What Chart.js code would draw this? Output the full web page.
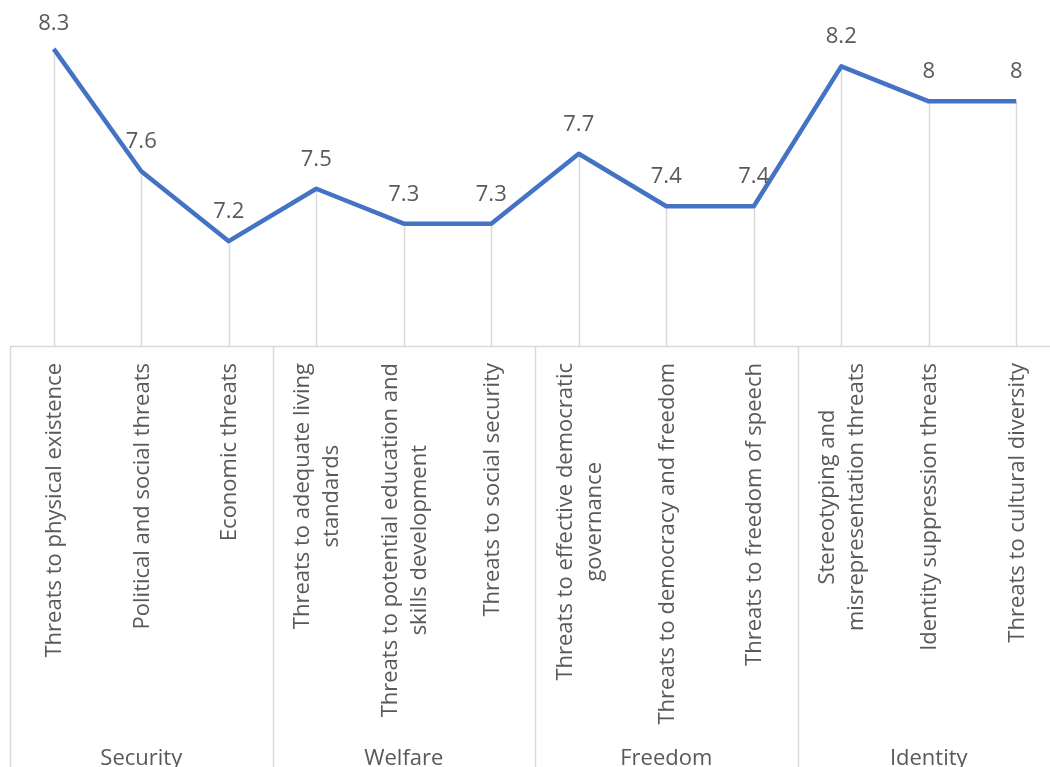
<!DOCTYPE html>
<html lang="en">

<head>
    <meta charset="UTF-8">
    <meta name="viewport" content="width=device-width, initial-scale=1.0">
    <title>Threat scores</title>
    <style>
        html, body { margin: 0; padding: 0; background: #fff; overflow: hidden; }
        #wrap { width: 1070px; height: 767px; }
    </style>
</head>

<body>
    <div id="wrap">
        <canvas id="myChart"></canvas>
    </div>
    <script src="https://cdn.jsdelivr.net/npm/chart.js"></script>
    <script>
        // categories (each entry is the list of wrapped lines)
        const categories = [
            ["Threats to physical existence"],
            ["Political and social threats"],
            ["Economic threats"],
            ["Threats to adequate living", "standards"],
            ["Threats to potential education and", "skills development"],
            ["Threats to social security"],
            ["Threats to effective democratic", "governance"],
            ["Threats to democracy and freedom"],
            ["Threats to freedom of speech"],
            ["Stereotyping and", "misrepresentation threats"],
            ["Identity suppression threats"],
            ["Threats to cultural diversity"]
        ];
        const groups = ["Security", "Welfare", "Freedom", "Identity"];
        const groupSizes = [3, 3, 3, 3];
        const scores = [8.3, 7.6, 7.2, 7.5, 7.3, 7.3, 7.7, 7.4, 7.4, 8.2, 8, 8];

        const textColor = '#595959';
        const gridColor = '#d9d9d9';
        const fontName = '"Open Sans", "Noto Sans", sans-serif';

        const ctx = document.getElementById('myChart');

        // drop lines, axis line, labels and the group level of the axis
        const axisPlugin = {
            id: 'axisPlugin',
            beforeDatasetsDraw(chart) {
                const c = chart.ctx;
                const xs = chart.scales.x;
                const ys = chart.scales.y;
                const area = chart.chartArea;
                c.save();
                c.strokeStyle = gridColor;
                c.lineWidth = 1.5;
                for (let i = 0; i < scores.length; i++) {
                    const x = Math.round(xs.getPixelForValue(i)) + 0.5;
                    c.beginPath();
                    c.moveTo(x, ys.getPixelForValue(scores[i]));
                    c.lineTo(x, area.bottom);
                    c.stroke();
                }
                c.restore();
            },
            afterDraw(chart) {
                const c = chart.ctx;
                const xs = chart.scales.x;
                const ys = chart.scales.y;
                const area = chart.chartArea;
                const h = chart.height;
                const half = (xs.getPixelForValue(1) - xs.getPixelForValue(0)) / 2;

                c.save();
                c.strokeStyle = gridColor;
                c.lineWidth = 1.5;
                c.beginPath();
                c.moveTo(area.left, area.bottom + 0.5);
                c.lineTo(area.right, area.bottom + 0.5);
                c.stroke();

                // group separators
                let start = 0;
                const bounds = [0];
                groupSizes.forEach(n => { start += n; bounds.push(start); });
                bounds.forEach(b => {
                    const x = Math.round(xs.getPixelForValue(b) - half) + 0.5;
                    c.beginPath();
                    c.moveTo(x, area.bottom);
                    c.lineTo(x, h);
                    c.stroke();
                });

                c.fillStyle = textColor;
                c.font = '22px ' + fontName;

                // data labels
                c.textAlign = 'center';
                c.textBaseline = 'alphabetic';
                for (let i = 0; i < scores.length; i++) {
                    const x = xs.getPixelForValue(i);
                    const y = Math.max(ys.getPixelForValue(scores[i]) - 23, 30);
                    c.fillText(String(scores[i]), x, y);
                }

                // category labels, rotated, ends aligned near the axis
                const lh = 29;
                for (let i = 0; i < categories.length; i++) {
                    const lines = categories[i];
                    const maxW = Math.max(...lines.map(t => c.measureText(t).width));
                    c.save();
                    c.translate(xs.getPixelForValue(i) + 1, area.bottom + 17);
                    c.rotate(-Math.PI / 2);
                    c.textAlign = 'center';
                    c.textBaseline = 'middle';
                    lines.forEach((t, k) => {
                        c.fillText(t, -maxW / 2, (k - (lines.length - 1) / 2) * lh);
                    });
                    c.restore();
                }

                // group names
                c.textAlign = 'center';
                c.textBaseline = 'alphabetic';
                groups.forEach((g, k) => {
                    const mid = (xs.getPixelForValue(bounds[k]) + xs.getPixelForValue(bounds[k + 1] - 1)) / 2;
                    c.fillText(g, mid, h - 2);
                });
                c.restore();
            }
        };

        new Chart(ctx, {
            type: 'line',
            data: {
                labels: categories.map(l => l.join(' ')),
                datasets: [{
                    data: scores,
                    borderColor: '#4472C4',
                    borderWidth: 4.5,
                    borderJoinStyle: 'round',
                    pointRadius: 0,
                    tension: 0,
                    clip: false
                }]
            },
            options: {
                responsive: true,
                maintainAspectRatio: false,
                animation: false,
                layout: {
                    padding: { left: 10, right: 10, top: 0, bottom: 421 }
                },
                scales: {
                    x: { display: false, offset: true },
                    y: { display: false, min: 6.6, max: 8.58 }
                },
                plugins: {
                    legend: { display: false },
                    tooltip: { enabled: false }
                }
            },
            plugins: [axisPlugin]
        });
    </script>
</body>

</html>
